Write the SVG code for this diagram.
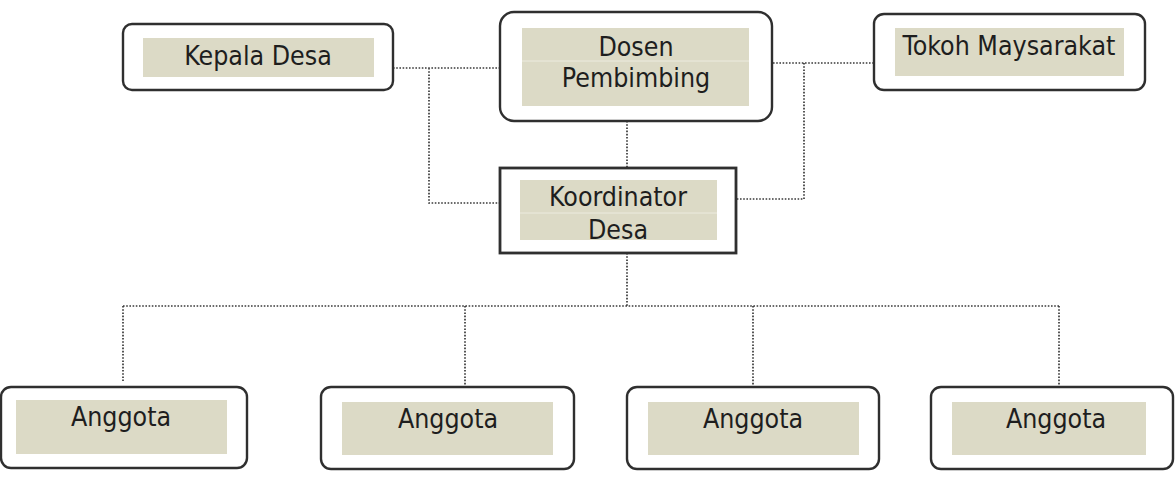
<svg xmlns="http://www.w3.org/2000/svg" width="1175" height="482" viewBox="0 0 1175 482">
<style>
.box{fill:#fff;stroke:#2f2f2f;stroke-width:2.4}
.sq{fill:#fff;stroke:#2f2f2f;stroke-width:2.8}
.lab{fill:#dcdac6}
.div{stroke:#ecebdf;stroke-width:1}
.t{font-family:"DejaVu Sans Condensed","DejaVu Sans",sans-serif;font-size:26.5px;fill:#1e1e1e;text-anchor:middle}
.c{fill:none;stroke:#3a3a3a;stroke-width:1.7;stroke-dasharray:1.6 1.6}
</style>
<rect width="1175" height="482" fill="#fff"/>
<g id="connectors">
<path class="c" d="M393 68H500M429 68V203H500"/>
<path class="c" d="M773 63H875M804 63V199H736"/>
<path class="c" d="M627 121V168"/>
<path class="c" d="M627 253V306M123 306H1059M123 306V381M465 306V386M753 306V386M1059 306V386"/>
</g>
<g id="kepala-desa">
<rect class="box" x="123" y="24" width="270" height="66" rx="9"/>
<rect class="lab" x="143" y="38" width="231" height="39"/>
<text class="t" x="258" y="65">Kepala Desa</text>
</g>
<g id="dosen-pembimbing">
<rect class="box" x="500" y="12" width="272" height="109" rx="14"/>
<rect class="lab" x="522" y="28" width="227" height="78"/>
<line class="div" x1="522" y1="61" x2="749" y2="61"/>
<text class="t" x="636" y="56">Dosen</text>
<text class="t" x="636" y="87">Pembimbing</text>
</g>
<g id="tokoh-masyarakat">
<rect class="box" x="874" y="14" width="271" height="76" rx="10"/>
<rect class="lab" x="895" y="28" width="229" height="48"/>
<text class="t" x="1009" y="55">Tokoh Maysarakat</text>
</g>
<g id="koordinator-desa">
<rect class="sq" x="500" y="168" width="236" height="85"/>
<rect class="lab" x="520" y="180" width="197" height="60"/>
<line class="div" x1="520" y1="213" x2="717" y2="213"/>
<text class="t" x="618" y="206">Koordinator</text>
<text class="t" x="618" y="239">Desa</text>
</g>
<g id="anggota-1">
<rect class="box" x="1" y="387" width="246" height="81" rx="10"/>
<rect class="lab" x="16" y="400" width="211" height="54"/>
<text class="t" x="121" y="426">Anggota</text>
</g>
<g id="anggota-2">
<rect class="box" x="321" y="387" width="253" height="82" rx="10"/>
<rect class="lab" x="342" y="402" width="211" height="53"/>
<text class="t" x="448" y="428">Anggota</text>
</g>
<g id="anggota-3">
<rect class="box" x="627" y="387" width="252" height="82" rx="10"/>
<rect class="lab" x="648" y="402" width="211" height="53"/>
<text class="t" x="753" y="428">Anggota</text>
</g>
<g id="anggota-4">
<rect class="box" x="931" y="387" width="242" height="82" rx="10"/>
<rect class="lab" x="952" y="402" width="194" height="53"/>
<text class="t" x="1056" y="428">Anggota</text>
</g>
</svg>
